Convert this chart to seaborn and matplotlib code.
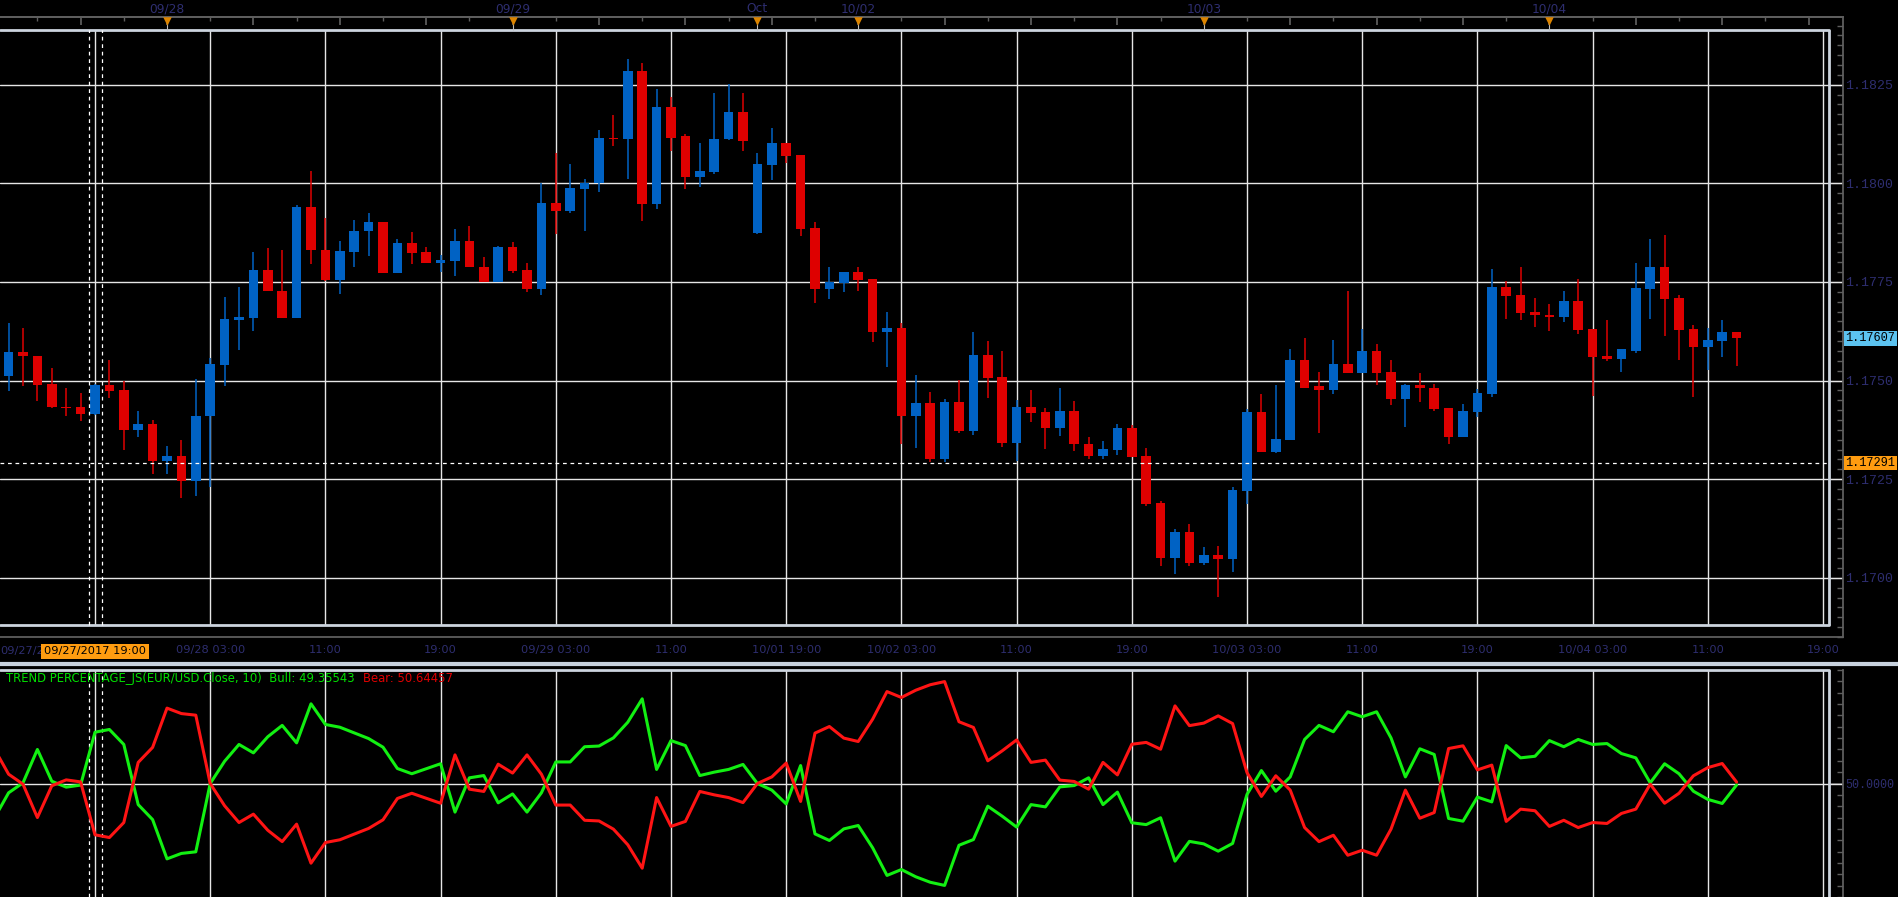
import numpy as np
import pandas as pd
import matplotlib
matplotlib.use("Agg")
import matplotlib.pyplot as plt
import matplotlib.transforms as mtransforms
from matplotlib.lines import Line2D
from matplotlib.ticker import MultipleLocator
import seaborn as sns

# hourly EUR/USD bars, index 0 = 09/28 00:00 (weekend Fri 17:00 -> Sun 17:00 removed)
bar_idx = list(range(-11, 110))

opens = [1.17512, 1.17572, 1.17563, 1.17491, 1.17434, 1.17432, 1.17415, 1.17488, 1.17475, 1.17375,
         1.17391, 1.17296, 1.17310, 1.17246, 1.17410, 1.17539, 1.17654, 1.17658, 1.17779, 1.17728,
         1.17658, 1.17941, 1.17832, 1.17755, 1.17826, 1.17879, 1.17903, 1.17772, 1.17848, 1.17825,
         1.17798, 1.17803, 1.17853, 1.17789, 1.17749, 1.17838, 1.17779, 1.17731, 1.17951, 1.17930,
         1.17985, 1.18001, 1.18115, 1.18112, 1.18284, 1.17947, 1.18194, 1.18119, 1.18015, 1.18028,
         1.18112, 1.18182, 1.17874, 1.18046, 1.18101, 1.18071, 1.17886, 1.17731, 1.17748, 1.17774,
         1.17757, 1.17623, 1.17632, 1.17410, 1.17442, 1.17301, 1.17445, 1.17372, 1.17566, 1.17508,
         1.17341, 1.17432, 1.17420, 1.17380, 1.17422, 1.17340, 1.17309, 1.17324, 1.17379, 1.17308,
         1.17189, 1.17050, 1.17116, 1.17037, 1.17057, 1.17048, 1.17220, 1.17420, 1.17318, 1.17350,
         1.17553, 1.17485, 1.17476, 1.17541, 1.17519, 1.17576, 1.17521, 1.17453, 1.17488, 1.17482,
         1.17430, 1.17357, 1.17421, 1.17466, 1.17738, 1.17716, 1.17674, 1.17667, 1.17661, 1.17701,
         1.17630, 1.17562, 1.17554, 1.17576, 1.17731, 1.17789, 1.17708, 1.17630, 1.17584, 1.17600,
         1.17622]
highs = [1.17645, 1.17632, 1.17563, 1.17531, 1.17480, 1.17468, 1.17492, 1.17551, 1.17499, 1.17422,
         1.17399, 1.17333, 1.17349, 1.17505, 1.17556, 1.17711, 1.17737, 1.17825, 1.17835, 1.17830,
         1.17945, 1.18030, 1.17913, 1.17855, 1.17906, 1.17924, 1.17903, 1.17860, 1.17876, 1.17838,
         1.17819, 1.17883, 1.17893, 1.17812, 1.17841, 1.17850, 1.17797, 1.18002, 1.18078, 1.18048,
         1.18010, 1.18134, 1.18172, 1.18314, 1.18305, 1.18240, 1.18219, 1.18125, 1.18101, 1.18230,
         1.18251, 1.18228, 1.18078, 1.18139, 1.18101, 1.18071, 1.17901, 1.17787, 1.17774, 1.17789,
         1.17757, 1.17673, 1.17645, 1.17513, 1.17472, 1.17452, 1.17501, 1.17622, 1.17599, 1.17574,
         1.17450, 1.17475, 1.17430, 1.17482, 1.17447, 1.17356, 1.17346, 1.17389, 1.17387, 1.17330,
         1.17194, 1.17123, 1.17136, 1.17077, 1.17080, 1.17229, 1.17427, 1.17465, 1.17488, 1.17579,
         1.17609, 1.17522, 1.17602, 1.17727, 1.17630, 1.17592, 1.17551, 1.17492, 1.17518, 1.17492,
         1.17430, 1.17440, 1.17478, 1.17784, 1.17752, 1.17787, 1.17708, 1.17693, 1.17726, 1.17757,
         1.17630, 1.17653, 1.17579, 1.17797, 1.17860, 1.17868, 1.17718, 1.17640, 1.17632, 1.17653,
         1.17622]
lows = [1.17473, 1.17486, 1.17448, 1.17430, 1.17410, 1.17398, 1.17413, 1.17455, 1.17324, 1.17357,
        1.17263, 1.17263, 1.17202, 1.17208, 1.17229, 1.17486, 1.17577, 1.17625, 1.17727, 1.17658,
        1.17658, 1.17796, 1.17752, 1.17719, 1.17788, 1.17816, 1.17772, 1.17772, 1.17796, 1.17798,
        1.17775, 1.17765, 1.17788, 1.17749, 1.17749, 1.17772, 1.17725, 1.17717, 1.17871, 1.17924,
        1.17879, 1.17978, 1.18094, 1.18011, 1.17904, 1.17935, 1.18081, 1.17985, 1.17991, 1.18023,
        1.18110, 1.18081, 1.17871, 1.18008, 1.18052, 1.17866, 1.17697, 1.17706, 1.17725, 1.17727,
        1.17597, 1.17534, 1.17340, 1.17329, 1.17293, 1.17293, 1.17367, 1.17361, 1.17455, 1.17331,
        1.17296, 1.17395, 1.17327, 1.17360, 1.17321, 1.17301, 1.17301, 1.17312, 1.17306, 1.17182,
        1.17030, 1.17010, 1.17030, 1.17033, 1.16952, 1.17015, 1.17187, 1.17318, 1.17316, 1.17350,
        1.17482, 1.17367, 1.17466, 1.17519, 1.17519, 1.17489, 1.17438, 1.17382, 1.17445, 1.17422,
        1.17340, 1.17357, 1.17408, 1.17458, 1.17655, 1.17654, 1.17637, 1.17625, 1.17648, 1.17618,
        1.17462, 1.17549, 1.17522, 1.17570, 1.17657, 1.17613, 1.17552, 1.17458, 1.17528, 1.17560,
        1.17536]
closes = [1.17572, 1.17562, 1.17489, 1.17432, 1.17430, 1.17415, 1.17488, 1.17473, 1.17374, 1.17391,
          1.17296, 1.17310, 1.17246, 1.17411, 1.17541, 1.17655, 1.17660, 1.17779, 1.17727, 1.17658,
          1.17941, 1.17830, 1.17754, 1.17828, 1.17880, 1.17903, 1.17772, 1.17848, 1.17823, 1.17798,
          1.17805, 1.17853, 1.17788, 1.17749, 1.17838, 1.17778, 1.17731, 1.17951, 1.17930, 1.17987,
          1.18001, 1.18116, 1.18112, 1.18284, 1.17947, 1.18194, 1.18116, 1.18015, 1.18030, 1.18113,
          1.18182, 1.18107, 1.18048, 1.18101, 1.18068, 1.17884, 1.17731, 1.17749, 1.17774, 1.17755,
          1.17623, 1.17632, 1.17410, 1.17442, 1.17301, 1.17445, 1.17372, 1.17566, 1.17506, 1.17341,
          1.17432, 1.17418, 1.17380, 1.17422, 1.17340, 1.17309, 1.17326, 1.17379, 1.17306, 1.17188,
          1.17050, 1.17116, 1.17037, 1.17057, 1.17048, 1.17222, 1.17420, 1.17318, 1.17351, 1.17553,
          1.17482, 1.17475, 1.17541, 1.17519, 1.17576, 1.17519, 1.17453, 1.17488, 1.17480, 1.17428,
          1.17357, 1.17422, 1.17468, 1.17738, 1.17714, 1.17671, 1.17667, 1.17661, 1.17701, 1.17628,
          1.17560, 1.17554, 1.17579, 1.17734, 1.17789, 1.17707, 1.17628, 1.17584, 1.17602, 1.17622,
          1.17607]

# TREND PERCENTAGE_JS(EUR/USD.Close, 10)
ind_idx = list(range(-12, 110))
bull = [34.6, 45.9, 50.3, 65.0, 51.0, 48.4, 49.3, 72.6, 73.8, 67.2, 40.7, 34.1, 16.8, 19.2, 19.9, 50.0,
        59.8, 67.2, 63.5, 70.6, 75.6, 67.9, 85.1, 76.0, 74.8, 72.3, 69.8, 66.0, 56.6, 54.3, 56.5, 58.7,
        37.4, 52.5, 53.5, 41.5, 45.4, 37.4, 45.9, 59.5, 59.5, 66.2, 66.5, 70.1, 77.0, 87.3, 56.2, 68.9,
        66.7, 53.5, 55.0, 56.2, 58.4, 50.0, 47.1, 41.0, 57.9, 27.8, 24.9, 30.0, 31.5, 21.7, 9.5, 12.1,
        8.9, 6.5, 5.1, 22.8, 25.3, 40.0, 35.6, 30.8, 40.7, 39.7, 48.5, 49.1, 52.5, 40.7, 46.2, 32.7,
        31.9, 34.9, 15.8, 24.5, 23.4, 20.2, 23.6, 45.2, 55.7, 46.6, 52.9, 69.4, 75.6, 72.8, 81.6, 79.4,
        81.6, 70.1, 52.9, 65.3, 62.8, 34.6, 33.4, 44.0, 41.9, 66.7, 61.3, 62.0, 68.9, 66.2, 69.4, 67.2,
        67.6, 63.2, 61.3, 50.3, 58.7, 54.3, 46.6, 43.0, 41.2, 49.36]
bear = [65.4, 54.1, 49.7, 35.0, 49.0, 51.6, 50.7, 27.4, 26.2, 32.8, 59.3, 65.9, 83.2, 80.8, 80.1, 50.0,
        40.2, 32.8, 36.5, 29.4, 24.4, 32.1, 14.9, 24.0, 25.2, 27.7, 30.2, 34.0, 43.4, 45.7, 43.5, 41.3,
        62.6, 47.5, 46.5, 58.5, 54.6, 62.6, 54.1, 40.5, 40.5, 33.8, 33.5, 29.9, 23.0, 12.7, 43.8, 31.1,
        33.3, 46.5, 45.0, 43.8, 41.6, 50.0, 52.9, 59.0, 42.1, 72.2, 75.1, 70.0, 68.5, 78.3, 90.5, 87.9,
        91.1, 93.5, 94.9, 77.2, 74.7, 60.0, 64.4, 69.2, 59.3, 60.3, 51.5, 50.9, 47.5, 59.3, 53.8, 67.3,
        68.1, 65.1, 84.2, 75.5, 76.6, 79.8, 76.4, 54.8, 44.3, 53.4, 47.1, 30.6, 24.4, 27.2, 18.4, 20.6,
        18.4, 29.9, 47.1, 34.7, 37.2, 65.4, 66.6, 56.0, 58.1, 33.3, 38.7, 38.0, 31.1, 33.8, 30.6, 32.8,
        32.4, 36.8, 38.7, 49.7, 41.3, 45.7, 53.4, 57.0, 58.8, 50.64]

price_ticks = [1.1700, 1.1725, 1.1750, 1.1775, 1.1800, 1.1825]
price_labels = ["1.1700", "1.1725", "1.1750", "1.1775", "1.1800", "1.1825"]
grid_idx = list(range(-5, 116, 8))
time_labels = ["", "09/28 03:00", "11:00", "19:00", "09/29 03:00", "11:00", "10/01 19:00",
               "10/02 03:00", "11:00", "19:00", "10/03 03:00", "11:00", "19:00", "10/04 03:00",
               "11:00", "19:00"]
day_idx = [0, 24, 41, 48, 72, 96]
day_labels = ["09/28", "09/29", "Oct", "10/02", "10/03", "10/04"]
last_price = 1.17607
cross_price = 1.17291
cross_idx = -5
bull_last, bear_last = 49.35543, 50.64457

# colours
BLUE = "#0062c4"
RED = "#de0000"
GRID = "#e6e6e6"
FRAME = "#ccd4de"
AXC = "#5e5e5e"
LBL = "#2e2e70"
MONO = ["Liberation Mono", "DejaVu Sans Mono"]

sns.set_theme(style="dark", rc={"axes.facecolor": "black", "figure.facecolor": "black",
                                "axes.grid": False})
plt.rcParams["font.family"] = ["DejaVu Sans"]

W, H = 1898, 897
fig = plt.figure(figsize=(W / 100, H / 100), dpi=100)

# pixel layout of the terminal window
X0_PX, BAR_PX = 167, 14.4
xlim = ((0 - X0_PX) / BAR_PX, (1843 - X0_PX) / BAR_PX)
frame_right = (1829 - X0_PX) / BAR_PX
frame_top, frame_bot = 1.18389, 1.16880

ax = fig.add_axes([0, 1 - 637 / H, 1843 / W, (637 - 17) / H])
ax2 = fig.add_axes([0, 0, 1843 / W, (897 - 670) / H])
for a in (ax, ax2):
    a.set_facecolor("black")
    a.set_xlim(*xlim)
ax.set_ylim(1.168499, 1.184216)
ax2.set_ylim(0, 100)

# ---- price panel ----
ax.vlines(grid_idx, frame_bot, frame_top, color=GRID, lw=1.0, zorder=1)
for p in price_ticks:
    ax.axhline(p, color=GRID, lw=1.0, zorder=1)
ax.axhline(frame_top, xmax=1829 / 1843, color=FRAME, lw=2.0, zorder=2)
ax.axhline(frame_bot, xmax=1829 / 1843, color=FRAME, lw=2.0, zorder=2)
ax.vlines(frame_right, frame_bot, frame_top, color=FRAME, lw=2.0, zorder=2)

df = pd.DataFrame({"i": bar_idx, "o": opens, "h": highs, "l": lows, "c": closes})
cols = np.where(df["c"] >= df["o"], BLUE, RED)
ax.vlines(df["i"], df["l"], df["h"], colors=cols, lw=1.1, zorder=3)
body_lo = np.minimum(df["o"], df["c"])
body_h = np.maximum((df["c"] - df["o"]).abs(), 0.00002)
ax.bar(df["i"], body_h, bottom=body_lo, width=0.66, color=cols, linewidth=0, zorder=4)

# crosshair
ax.vlines([cross_idx - 0.45, cross_idx + 0.5], frame_bot, frame_top, colors="white",
          linestyles=(0, (3, 3)), lw=0.9, zorder=5)
ax.hlines(cross_price, xlim[0], frame_right, colors="white", linestyles=(0, (3, 3)), lw=0.9, zorder=5)

for s in ("top", "right", "bottom"):
    ax.spines[s].set_color(AXC)
    ax.spines[s].set_linewidth(1.3)
ax.spines["left"].set_visible(False)

ax.yaxis.tick_right()
ax.set_yticks(price_ticks)
ax.set_yticklabels(price_labels)
ax.yaxis.set_minor_locator(MultipleLocator(0.00025))
ax.tick_params(axis="y", which="major", direction="in", length=10, width=1, color=AXC,
               labelcolor=LBL, labelsize=9.5, pad=1.5, left=False)
ax.tick_params(axis="y", which="minor", direction="in", length=4, width=1, color=AXC, left=False)
for t in ax.get_yticklabels():
    t.set_fontfamily(MONO)

ax.set_xticks(grid_idx)
ax.set_xticklabels(time_labels)
ax.xaxis.set_minor_locator(MultipleLocator(1))
ax.tick_params(axis="x", which="major", direction="in", length=12, width=1, color=AXC,
               labelcolor=LBL, labelsize=8.2, pad=6)
ax.tick_params(axis="x", which="minor", direction="in", length=4, width=1, color=AXC)

top_lab = ax.secondary_xaxis("top")
top_lab.set_xticks(day_idx)
top_lab.set_xticklabels(day_labels)
top_lab.tick_params(length=0, labelcolor=LBL, labelsize=8.8, pad=1.2)
top_lab.spines["top"].set_color(AXC)
top_tk = ax.secondary_xaxis("top")
top_tk.xaxis.set_major_locator(MultipleLocator(6))
top_tk.xaxis.set_minor_locator(MultipleLocator(3))
top_tk.tick_params(which="major", direction="in", length=6, color=AXC, labeltop=False)
top_tk.tick_params(which="minor", direction="in", length=3, color=AXC)
top_tk.spines["top"].set_color(AXC)

tri_y = 1.18411
ax.vlines(day_idx, frame_top, tri_y, colors="#bdbdbd", lw=0.8, clip_on=False, zorder=6)
ax.scatter(day_idx, [tri_y] * len(day_idx), marker="v", s=38, color="#dc8400",
           linewidths=0, clip_on=False, zorder=7)

tr_y = mtransforms.blended_transform_factory(ax.transAxes, ax.transData)
ax.text(1.0012, last_price, f"{last_price:.5f}", transform=tr_y, ha="left", va="center",
        fontsize=8.6, family=MONO, color="black", clip_on=False,
        bbox=dict(boxstyle="square,pad=0.12", fc="#5cc3f0", ec="none"))
ax.text(1.0012, cross_price, f"{cross_price:.5f}", transform=tr_y, ha="left", va="center",
        fontsize=8.6, family=MONO, color="black", clip_on=False,
        bbox=dict(boxstyle="square,pad=0.12", fc="#ff9c10", ec="none"))

tr_x = mtransforms.blended_transform_factory(ax.transData, ax.transAxes)
ax.text(0.0, -0.0226, "09/27/2", transform=ax.transAxes, ha="left", va="center",
        fontsize=8.2, color=LBL, clip_on=False)
ax.text(cross_idx, -0.0226, "09/27/2017 19:00", transform=tr_x, ha="center", va="center",
        fontsize=8.2, color="black", clip_on=False, zorder=8,
        bbox=dict(boxstyle="square,pad=0.22", fc="#ff9c10", ec="none"))

# ---- indicator panel ----
ax2.vlines(grid_idx, 0, 100, color=GRID, lw=1.0, zorder=1)
ax2.axhline(50, color=GRID, lw=1.0, zorder=1)
ax2.axhline(100, xmax=1829 / 1843, color=FRAME, lw=2.0, clip_on=False, zorder=2)
ax2.vlines(frame_right, 0, 100, color=FRAME, lw=2.0, clip_on=False, zorder=2)
ax2.vlines([cross_idx - 0.45, cross_idx + 0.5], 0, 100, colors="white",
           linestyles=(0, (3, 3)), lw=0.9, zorder=2)

sns.lineplot(x=ind_idx, y=bull, ax=ax2, color="#12f012", lw=2.2, zorder=3)
sns.lineplot(x=ind_idx, y=bear, ax=ax2, color="#ff1414", lw=2.2, zorder=4)
ax2.set_xlim(*xlim)
ax2.set_ylim(0, 100)

for s in ("top", "left", "bottom"):
    ax2.spines[s].set_visible(False)
ax2.spines["right"].set_color(AXC)
ax2.spines["right"].set_linewidth(1.3)
ax2.yaxis.tick_right()
ax2.set_yticks([50])
ax2.set_yticklabels(["50.0000"])
ax2.yaxis.set_minor_locator(MultipleLocator(5))
ax2.tick_params(axis="y", which="major", direction="in", length=10, color=AXC,
                labelcolor=LBL, labelsize=8.4, pad=1.5, left=False)
ax2.tick_params(axis="y", which="minor", direction="in", length=4, color=AXC, left=False)
for t in ax2.get_yticklabels():
    t.set_fontfamily(MONO)
ax2.set_xticks([])
ax2.set_xlabel("")
ax2.set_ylabel("")

leg = ax2.text(6 / 1843, (897 - 678) / 227, f"TREND PERCENTAGE_JS(EUR/USD.Close, 10)  Bull: {bull_last:.5f}",
               transform=ax2.transAxes, ha="left", va="center", fontsize=8.4, color="#00e000", zorder=6)
ax2.annotate(f"Bear: {bear_last:.5f}", xy=(1, 0.5), xycoords=leg, xytext=(6, 0),
             textcoords="offset points", ha="left", va="center", fontsize=8.4, color="#e00000")

# separator between panels
fig.add_artist(Line2D([0, 1], [1 - 664 / H] * 2, transform=fig.transFigure,
                      color="#c8d2de", lw=3.0))

fig.savefig("out.png", dpi=100, facecolor="black")
